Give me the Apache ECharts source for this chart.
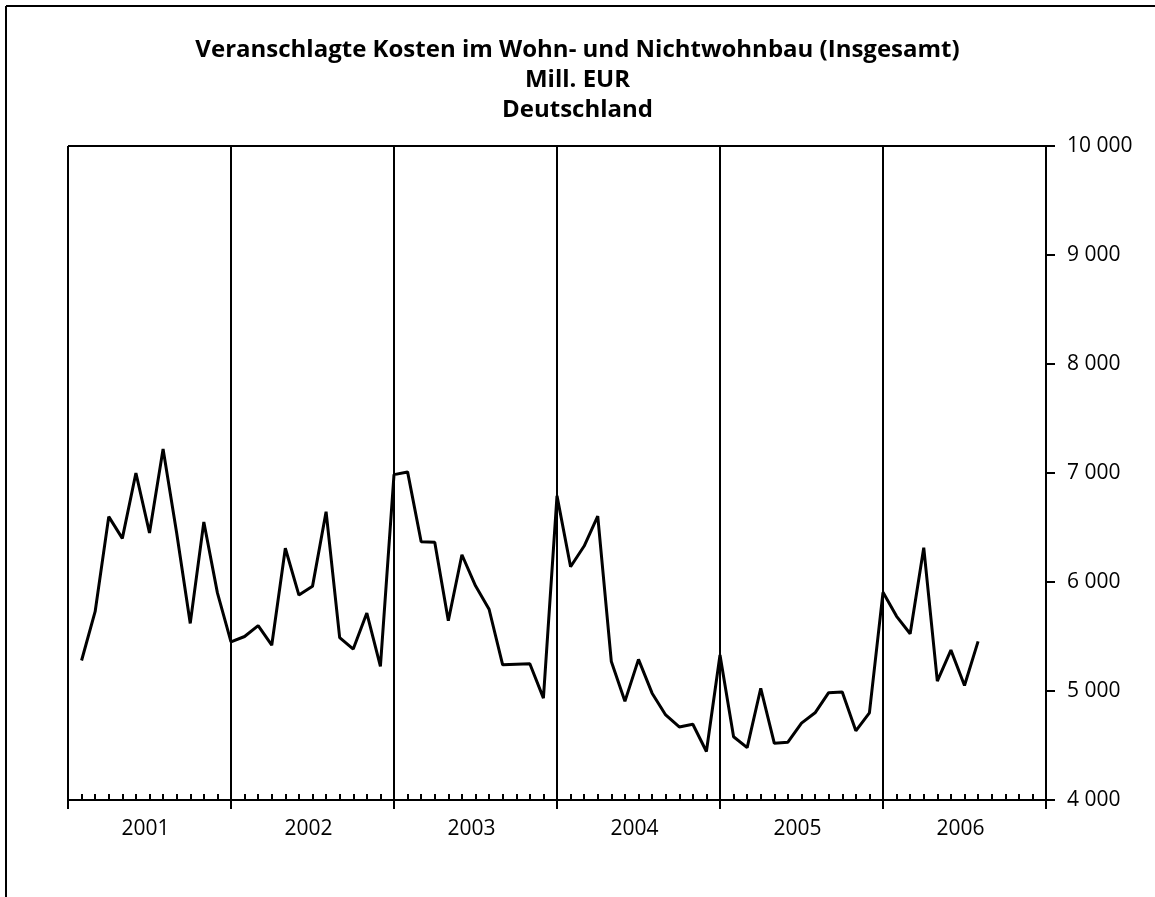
<!DOCTYPE html>
<html>
<head>
<meta charset="utf-8">
<script src="https://cdn.jsdelivr.net/npm/echarts@6/dist/echarts.min.js"></script>
<style>
html,body{margin:0;padding:0;background:#fff;}
#c{width:1155px;height:897px;}
</style>
</head>
<body>
<div id="c"></div>
<script>
var titleLines = ['Veranschlagte Kosten im Wohn- und Nichtwohnbau (Insgesamt)', 'Mill. EUR', 'Deutschland'];
var years = ['2001', '2002', '2003', '2004', '2005', '2006'];
var yTicks = [4000, 5000, 6000, 7000, 8000, 9000, 10000];
var v2001 = [5280, 5730, 6600, 6400, 7000, 6450, 7220, 6450, 5620, 6550, 5900, 5450];
var v2002 = [5500, 5600, 5420, 6310, 5880, 5960, 6645, 5490, 5385, 5715, 5225, 6985];
var v2003 = [7010, 6370, 6365, 5645, 6250, 5965, 5750, 5240, 5245, 5250, 4935, 6790];
var v2004 = [6140, 6330, 6605, 5270, 4905, 5290, 4980, 4780, 4670, 4695, 4445, 5330];
var v2005 = [4580, 4480, 5025, 4520, 4530, 4705, 4800, 4985, 4990, 4635, 4800, 5905];
var v2006 = [5685, 5525, 6315, 5090, 5375, 5050, 5455];

var all = [].concat(v2001, v2002, v2003, v2004, v2005, v2006);
var data = all.map(function (v, i) { return [i + 1, v]; });

var FONT = '"Open Sans", "Noto Sans", sans-serif';
var chart = echarts.init(document.getElementById('c'));
chart.setOption({
  animation: false,
  backgroundColor: '#fff',
  title: {
    text: titleLines.join('\n'),
    left: 'center',
    top: 30,
    textStyle: { fontFamily: FONT, fontSize: 24, fontWeight: 'bold', color: '#000', lineHeight: 30 }
  },
  grid: { left: 68, right: 109, top: 146, bottom: 97 },
  xAxis: [
    {
      type: 'value', min: 0, max: 72, interval: 12, position: 'bottom',
      axisLine: { show: true, onZero: false, lineStyle: { color: '#000', width: 2 } },
      axisTick: { show: true, inside: false, length: 9, lineStyle: { color: '#000', width: 2 } },
      axisLabel: { show: false },
      splitLine: { show: true, lineStyle: { color: '#000', width: 2 } }
    },
    {
      type: 'value', min: 0, max: 72, interval: 1, position: 'bottom',
      axisLine: { show: false, onZero: false },
      axisTick: { show: true, inside: true, length: 6, lineStyle: { color: '#000', width: 2 } },
      axisLabel: { show: false },
      splitLine: { show: false }
    },
    {
      type: 'category', data: years, position: 'bottom', boundaryGap: true,
      axisLine: { show: false, onZero: false },
      axisTick: { show: false },
      axisLabel: { show: true, margin: 19, color: '#000', fontFamily: FONT, fontSize: 21, padding: [0, 8, 0, 0] },
      splitLine: { show: false }
    }
  ],
  yAxis: {
    type: 'value', position: 'right', min: 4000, max: 10000, interval: 1000,
    axisLine: { show: true, onZero: false, lineStyle: { color: '#000', width: 2 } },
    axisTick: { show: true, inside: false, length: 9, lineStyle: { color: '#000', width: 2 } },
    axisLabel: {
      show: true, margin: 21, color: '#000', fontFamily: FONT, fontSize: 21,
      formatter: function (v) { return String(v).replace(/\B(?=(\d{3})+(?!\d))/g, ' '); }
    },
    splitLine: { show: false }
  },
  graphic: [
    { type: 'line', shape: { x1: 6, y1: 6, x2: 1155, y2: 6 }, style: { stroke: '#000', lineWidth: 2 } },
    { type: 'line', shape: { x1: 6, y1: 6, x2: 6, y2: 897 }, style: { stroke: '#000', lineWidth: 2 } },
    { type: 'line', shape: { x1: 68, y1: 146, x2: 1046, y2: 146 }, style: { stroke: '#000', lineWidth: 2 } }
  ],
  series: [{
    type: 'line', xAxisIndex: 0, data: data, showSymbol: false,
    lineStyle: { color: '#000', width: 3 }
  }]
});
</script>
</body>
</html>
